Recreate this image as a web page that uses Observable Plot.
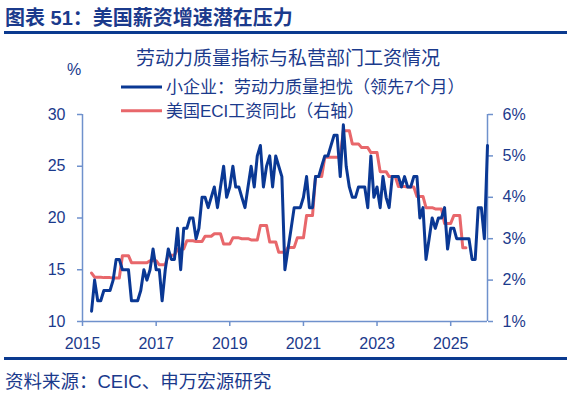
<!DOCTYPE html>
<html><head><meta charset="utf-8">
<script src="https://cdn.jsdelivr.net/npm/d3@7"></script>
<script src="https://cdn.jsdelivr.net/npm/@observablehq/plot@0.6"></script>
<style>
html,body{margin:0;padding:0;background:#fff;}
#wrap{position:relative;width:570px;height:396px;overflow:hidden;font-family:"Liberation Sans","Noto Sans CJK SC",sans-serif;}
#chart{position:absolute;left:0;top:0;}
#overlay{position:absolute;left:0;top:0;pointer-events:none;}
</style></head><body>
<div id="wrap">
<div id="chart"></div>
<svg id="overlay" width="570" height="396" font-family='"Liberation Sans","Noto Sans CJK SC",sans-serif'></svg>
</div>
<script>
// ---- text ----
const titleText = "图表 51：美国薪资增速潜在压力";
const subtitleText = "劳动力质量指标与私营部门工资情况";
const unitLeft = "%";
const seriesNames = ["小企业：劳动力质量担忧（领先7个月）", "美国ECI工资同比（右轴）"];
const sourceText = "资料来源：CEIC、申万宏源研究";

// ---- ticks ----
const leftTicks = [10, 15, 20, 25, 30];
const rightTicks = [1, 2, 3, 4, 5, 6];
const yearTicks = [2015, 2017, 2019, 2021, 2023, 2025];

// ---- data ----
// Small business: labor quality concern (%, led 7 months), monthly from 2015-04 to 2026-01
const blueStart = [2015, 3]; // year, month index (0 = Jan)
const blueValues = [
  11,14,12,12,13,13,13,14,16,16,15,15,
  15,12,12,12,13,15,14,15,17,15,15,12,
  15,17,16,16,19,15,19,19,20,20,18,19,
  22,22,21,22,23,21,23,25,22,23,25,23,
  23,22,21,23,25,23,26,27,23,25,26,23,
  26,25,24,15,17,19,21,21,21,22,24,21,
  21,24,24,25,26,26,27,28,28,24,29,25,
  23,22,22,23,23,23,21,26,22,23,21,24,
  22,21,24,24,24,23,24,23,23,24,24,20,
  21,16,18,20,19,20,20,21,17,19,19,18,
  18,18,18,18,16,16,21,21,18,27
];
// US ECI wages YoY (%), quarterly; quarter k covers months 3k+1..3k+3 counted from 2015-01
const eciValues = [
  2.17,2.07,2.06,2.05,2.59,2.42,2.42,2.47,2.37,2.60,
  2.75,2.95,2.93,3.06,3.12,2.87,3.02,3.00,2.97,3.32,
  2.92,2.67,2.79,3.02,3.56,4.50,4.97,4.97,5.61,5.29,
  5.20,5.08,4.62,4.50,4.26,4.25,4.02,3.75,3.72,3.37,
  3.56,2.78
];
const eciFirstMonth = 3, eciLastMonth = 125; // shown range (month index from 2015-01)

// ---- styles ----
const navy = "#1B3A8C";
const blue = "#0A3894";
const red = "#E8676B";
const axisColor = "#6F91CC";
const ff = '"Liberation Sans","Noto Sans CJK SC",sans-serif';

const mDate = m => new Date(Date.UTC(2015, m, 1));
const blueData = blueValues.map((v, i) => ({date: new Date(Date.UTC(blueStart[0], blueStart[1] + i, 1)), value: v}));
const redData = [];
eciValues.forEach((v, k) => {
  for (let j = 1; j <= 3; j++) {
    const m = 3 * k + j;
    if (m >= eciFirstMonth && m <= eciLastMonth) redData.push({date: mDate(m), value: v});
  }
});
const toLeft = v => 10 + (v - 1) * 4; // right axis (1%..6%) onto left (10..30)
const xDomain = [new Date(Date.UTC(2015, 0, 1)), new Date(Date.UTC(2026, 0, 1))];

const chart = Plot.plot({
  width: 570, height: 396,
  marginLeft: 82, marginRight: 83, marginTop: 114, marginBottom: 75,
  style: {fontFamily: ff, fontSize: "16px", background: "transparent", color: navy},
  x: {type: "utc", domain: xDomain},
  y: {domain: [10, 30]},
  marks: [
    Plot.axisY({ticks: leftTicks, anchor: "left", tickSize: 5, tickPadding: 12, stroke: axisColor, fill: navy, strokeWidth: 1.5, label: null, fontSize: 16}),
    Plot.axisY({ticks: rightTicks.map(toLeft), tickFormat: v => ((v - 10) / 4 + 1) + "%", anchor: "right", tickSize: 5, tickPadding: 10, stroke: axisColor, fill: navy, strokeWidth: 1.5, label: null, fontSize: 16}),
    Plot.axisX({ticks: yearTicks.map(y => new Date(Date.UTC(y, 0, 1))), tickFormat: d => String(d.getUTCFullYear()), anchor: "bottom", tickSize: 5, tickPadding: 11, stroke: axisColor, fill: navy, strokeWidth: 1.5, label: null, fontSize: 16}),
    Plot.ruleX([xDomain[0], xDomain[1]], {stroke: axisColor, strokeWidth: 1.5}),
    Plot.ruleY([10], {stroke: axisColor, strokeWidth: 1.5}),
    Plot.line(redData, {x: "date", y: d => toLeft(d.value), stroke: red, strokeWidth: 3}),
    Plot.line(blueData, {x: "date", y: "value", stroke: blue, strokeWidth: 3})
  ]
});
document.getElementById("chart").appendChild(chart);

// ---- overlay: title, legend, source ----
const ov = d3.select("#overlay");
ov.append("text").attr("x", 5).attr("y", 25).attr("font-size", 20).attr("font-weight", "bold").attr("fill", navy).text(titleText);
ov.append("rect").attr("x", 4).attr("y", 31).attr("width", 563).attr("height", 3).attr("fill", "#0B3A8F");
ov.append("text").attr("x", 288).attr("y", 65).attr("text-anchor", "middle").attr("font-size", 19).attr("fill", navy).text(subtitleText);
ov.append("text").attr("x", 74).attr("y", 75).attr("text-anchor", "middle").attr("font-size", 16).attr("fill", navy).text(unitLeft);
const legendColors = [blue, red];
const legendY = [87, 110.7];
seriesNames.forEach((name, i) => {
  ov.append("line").attr("x1", 121).attr("x2", 162).attr("y1", legendY[i]).attr("y2", legendY[i]).attr("stroke", legendColors[i]).attr("stroke-width", 3);
  ov.append("text").attr("x", 166).attr("y", legendY[i] + 6.3).attr("font-size", 17).attr("fill", navy).text(name);
});
ov.append("rect").attr("x", 4).attr("y", 357).attr("width", 563).attr("height", 3).attr("fill", "#0B3A8F");
ov.append("text").attr("x", 5).attr("y", 388).attr("font-size", 18.5).attr("fill", navy).text(sourceText);
</script>
</body></html>
